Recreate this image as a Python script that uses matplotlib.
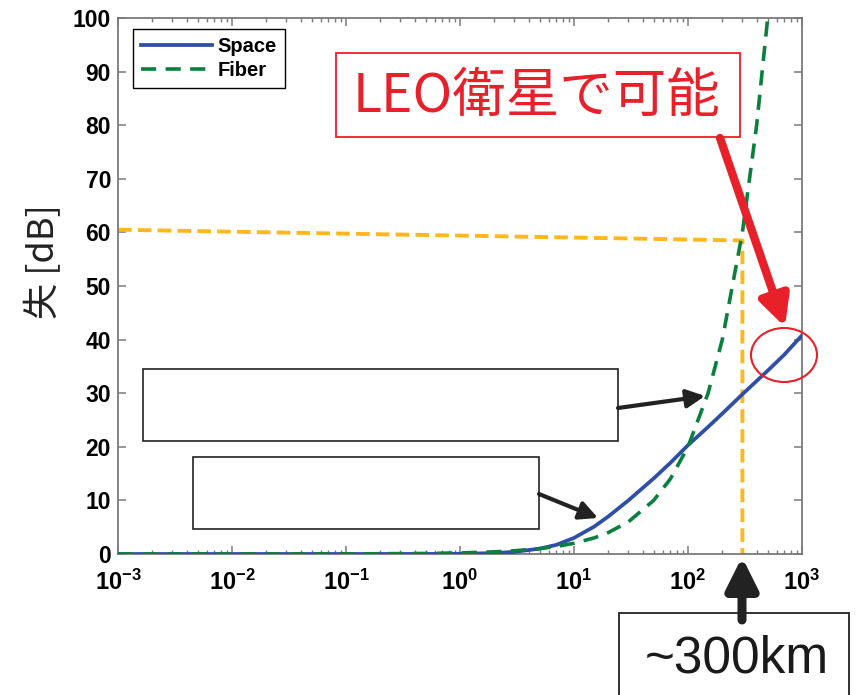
import matplotlib
matplotlib.use('Agg')
import matplotlib.pyplot as plt
import matplotlib.patches as patches
import numpy as np

# --- data ---
dist_km = [1e-3, 1e-2, 1e-1, 0.5, 1, 2, 3, 5, 7, 10, 15, 20, 30, 50, 70,
           100, 150, 200, 300, 500, 700, 1000]
space_db = [0, 0, 0, 0.01, 0.04, 0.17, 0.4, 1.0, 1.7, 3.0, 5.1, 7.0, 10.0,
            14.1, 17.0, 20.3, 23.7, 26.2, 29.8, 34.2, 37.2, 40.8]
fiber_dist_km = [1e-3, 1e-2, 1e-1, 0.5, 1, 2, 3, 5, 7, 10, 15, 20, 30, 50,
                 70, 100, 150, 200, 300, 400, 500, 600]
fiber_db = [0, 0, 0.02, 0.1, 0.2, 0.4, 0.6, 1.0, 1.4, 2.0, 3.0, 4.0, 6.0,
            10.0, 14.0, 20.0, 30.0, 40.0, 60.0, 80.0, 100.0, 120.0]
guide_x = [1e-3, 300, 300]
guide_y = [60.5, 58.5, 0]
xtick_vals = [1e-3, 1e-2, 1e-1, 1, 10, 100, 1000]
xtick_labels = [r'$10^{-3}$', r'$10^{-2}$', r'$10^{-1}$', r'$10^{0}$',
                r'$10^{1}$', r'$10^{2}$', r'$10^{3}$']
ytick_vals = list(range(0, 101, 10))

W, H = 856, 695
def px(x, y):
    # pixel (from top-left) -> figure fraction
    return (x / W, 1 - y / H)

plt.rcParams['font.family'] = ['Liberation Sans', 'DejaVu Sans']
plt.rcParams['font.weight'] = 'bold'
plt.rcParams['mathtext.fontset'] = 'custom'
plt.rcParams['mathtext.rm'] = 'Liberation Sans:bold'
plt.rcParams['mathtext.it'] = 'Liberation Sans:bold'
plt.rcParams['mathtext.bf'] = 'Liberation Sans:bold'

fig = plt.figure(figsize=(W / 100, H / 100), dpi=100)
fig.patch.set_facecolor('white')
ax = fig.add_axes([118 / W, 141 / H, 684 / W, 536 / H])

ax.plot(dist_km, space_db, color='#2E4FA5', lw=2.7, label='Space', zorder=3)
ax.plot(fiber_dist_km, fiber_db, color='#0B7F3D', lw=2.6, ls=(0, (4.2, 2.6)),
        label='Fiber', zorder=3)
ax.plot(guide_x, guide_y, color='#FFB81C', lw=2.8, ls=(0, (3.5, 1.6)), zorder=2)

ax.set_xscale('log')
ax.set_xlim(1e-3, 1e3)
ax.set_ylim(0, 100)
ax.set_xticks(xtick_vals)
ax.set_xticklabels(xtick_labels, fontsize=17)
ax.set_yticks(ytick_vals)
ax.set_yticklabels([str(v) for v in ytick_vals], fontsize=16.5, fontweight='bold')
ax.tick_params(which='both', direction='in', top=True, right=True, color='#7a7a7a')
ax.tick_params(which='major', length=6, width=1.1, pad=5)
ax.tick_params(axis='x', which='major', pad=11)
ax.tick_params(which='minor', length=3, width=1.0)
for s in ax.spines.values():
    s.set_color('#7a7a7a')
    s.set_linewidth(1.3)

leg = ax.legend(loc='upper left', bbox_to_anchor=px(133, 29),
                bbox_transform=fig.transFigure, borderaxespad=0,
                fancybox=False, edgecolor='black', framealpha=1,
                prop={'family': ['Liberation Sans'], 'weight': 'bold', 'size': 14.5},
                handlelength=3.5, handletextpad=0.3, labelspacing=0.25,
                borderpad=0.4)
leg.get_frame().set_linewidth(1.0)

# y label (partly cut in the original)
fig.text(*px(44, 262), '失 [dB]', rotation=90, ha='center', va='center',
         fontsize=26, fontweight='normal', color='#222222',
         family=['Noto Sans CJK JP', 'DejaVu Sans'])

# --- annotations ---
def box(x0, y0, x1, y1, ec, lw):
    r = patches.Rectangle(px(x0, y1), (x1 - x0) / W, (y1 - y0) / H,
                          transform=fig.transFigure, fill=True, fc='white',
                          ec=ec, lw=lw, zorder=5)
    fig.add_artist(r)

def arrow(p0, p1, color, lw, hl, hw):
    a = patches.FancyArrowPatch(px(*p0), px(*p1), transform=fig.transFigure,
                                arrowstyle=f'-|>,head_length={hl},head_width={hw}',
                                color=color, lw=lw, shrinkA=0, shrinkB=0, zorder=6)
    fig.add_artist(a)

RED = '#E8202A'
box(336, 53, 740, 137, RED, 1.3)
fig.text(*px(537, 97), 'LEO衛星で可能', ha='center', va='center', fontsize=38.5,
         fontweight='normal', color=RED, zorder=7,
         family=['Noto Sans CJK JP', 'DejaVu Sans'])
arrow((720, 138), (785, 327), RED, 6, 18, 9)
fig.add_artist(patches.Ellipse(px(784, 355), 66 / W, 54 / H, transform=fig.transFigure,
                               fill=False, ec=RED, lw=1.5, zorder=6))

box(143, 369, 618, 441, '#222222', 1.2)
box(193, 457, 539, 529, '#222222', 1.2)
arrow((618, 408), (705, 396), '#222222', 3, 11, 5.5)
arrow((539, 494), (598, 518), '#222222', 3, 11, 5.5)

box(619, 613, 849, 700, '#222222', 1.3)
fig.text(*px(737, 659), '~300km', ha='center', va='center', fontsize=37,
         fontweight='normal', color='#1a1a1a', zorder=7,
         family=['Liberation Sans', 'DejaVu Sans'])
arrow((742, 620), (742, 557), '#222222', 6.5, 19, 9.5)

fig.savefig('out.png', dpi=100, facecolor='white')
